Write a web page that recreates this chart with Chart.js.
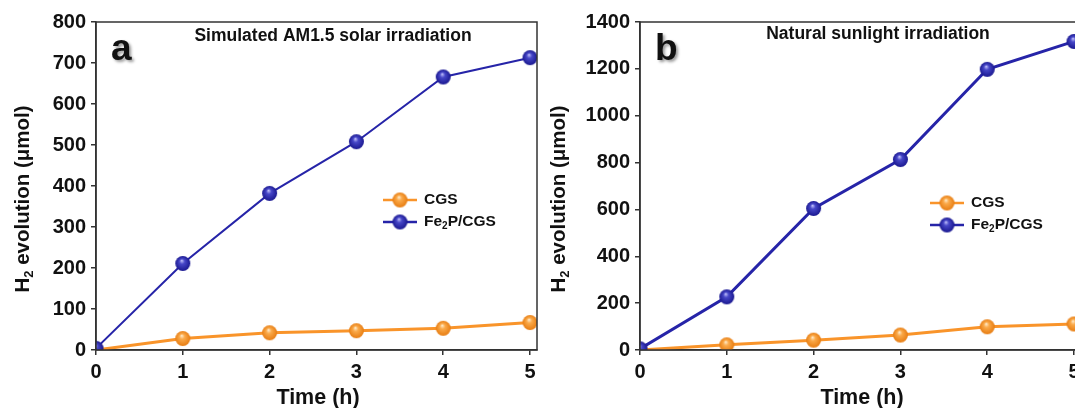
<!DOCTYPE html>
<html>
<head>
<meta charset="utf-8">
<script src="https://cdn.jsdelivr.net/npm/chart.js@4.4.1/dist/chart.umd.min.js"></script>
<style>
  body { margin: 0; width: 1075px; height: 408px; overflow: hidden; background: #fff; position: relative; }
  .panel { position: absolute; top: 0; width: 545px; height: 408px; }
  #panelA { left: 0; }
  #panelB { left: 544px; }
</style>
</head>
<body>
<div class="panel" id="panelA"><canvas id="chartA" width="545" height="408"></canvas></div>
<div class="panel" id="panelB"><canvas id="chartB" width="545" height="408"></canvas></div>
<script>
// datos
const hours = [0, 1, 2, 3, 4, 5];
const cgsA = [0, 28, 42, 47, 53, 67];
const fe2pA = [4, 211, 382, 508, 666, 713];
const cgsB = [0, 22, 42, 64, 99, 111];
const fe2pB = [5, 227, 604, 813, 1198, 1317];
const yMaxA = 800, yStepA = 100;
const yMaxB = 1400, yStepB = 200;
const titleA = "Simulated AM1.5 solar irradiation";
const titleB = "Natural sunlight irradiation";
const seriesNames = ["CGS", "Fe2P/CGS"];

const FONT = '"Liberation Sans", Arial, sans-serif';
const ORANGE = "rgb(249,148,42)";
const BLUE = "rgb(38,36,168)";
const AXIS = "#333";

// bolita con degradado (tipo esfera)
function makeBall(light, mid, dark, r) {
  const c = document.createElement("canvas");
  c.width = c.height = r * 2 + 2;
  const g = c.getContext("2d");
  const cx = r + 1, cy = r + 1;
  const grad = g.createRadialGradient(cx - r * 0.15, cy - r * 0.4, 0, cx, cy, r);
  grad.addColorStop(0, light);
  grad.addColorStop(0.35, mid);
  grad.addColorStop(1, dark);
  g.fillStyle = grad;
  g.beginPath();
  g.arc(cx, cy, r, 0, Math.PI * 2);
  g.fill();
  return c;
}
const ballOrange = makeBall("#fff1d6", "#fbaa4a", "#e77d12", 7.5);
const ballBlue = makeBall("#c9c9ff", "#4747c8", "#1a1890", 7.5);

function pairs(values) {
  return hours.map((h, i) => ({ x: h, y: values[i] }));
}

// textos con subindice
function drawSub(ctx, parts, x, y, size, align) {
  const total = parts.reduce((s, p) => {
    ctx.font = "bold " + (p.sub ? Math.round(size * 0.65) : size) + "px " + FONT;
    return s + ctx.measureText(p.t).width;
  }, 0);
  let cx = align === "center" ? x - total / 2 : x;
  parts.forEach(p => {
    ctx.font = "bold " + (p.sub ? Math.round(size * 0.65) : size) + "px " + FONT;
    ctx.fillText(p.t, cx, y + (p.sub ? size * 0.3 : 0));
    cx += ctx.measureText(p.t).width;
  });
}

const decor = {
  id: "decor",
  afterDraw(chart, args, o) {
    const ctx = chart.ctx;
    const a = chart.chartArea;
    ctx.save();
    // marco
    ctx.strokeStyle = AXIS;
    ctx.lineWidth = 1.5;
    ctx.strokeRect(a.left, a.top, a.right - a.left, a.bottom - a.top);

    ctx.fillStyle = "#111";
    ctx.textBaseline = "middle";
    ctx.textAlign = "center";
    ctx.font = "bold 17.5px " + FONT;
    ctx.fillText(o.title, o.titleX, o.titleY);

    // letra del panel
    ctx.save();
    ctx.shadowColor = "rgba(0,0,0,0.4)";
    ctx.shadowOffsetX = 2;
    ctx.shadowOffsetY = 2;
    ctx.shadowBlur = 3;
    ctx.textAlign = "left";
    ctx.textBaseline = "alphabetic";
    ctx.font = "900 37px " + FONT;
    ctx.fillStyle = "#111";
    ctx.fillText(o.letter, o.letterX, 60);
    ctx.restore();

    // titulo eje x
    ctx.textAlign = "left";
    ctx.textBaseline = "middle";
    drawSub(ctx, [{ t: "Time (h)" }], 318, 398, 21.5, "center");

    // titulo eje y
    ctx.save();
    ctx.translate(o.yTitleX, 199);
    ctx.rotate(-Math.PI / 2);
    drawSub(ctx, [{ t: "H" }, { t: "2", sub: true }, { t: " evolution (\u03bcmol)" }], 0, 0, 20.5, "center");
    ctx.restore();

    // leyenda
    const rows = [
      { ball: ballOrange, color: ORANGE, parts: [{ t: "CGS" }] },
      { ball: ballBlue, color: BLUE, parts: [{ t: "Fe" }, { t: "2", sub: true }, { t: "P/CGS" }] }
    ];
    rows.forEach((r, i) => {
      const y = o.legY + i * 22;
      ctx.strokeStyle = r.color;
      ctx.lineWidth = 2.5;
      ctx.beginPath();
      ctx.moveTo(o.legX, y);
      ctx.lineTo(o.legX + 34, y);
      ctx.stroke();
      ctx.drawImage(r.ball, o.legX + 17 - r.ball.width / 2, y - r.ball.height / 2);
      ctx.fillStyle = "#111";
      drawSub(ctx, r.parts, o.legX + 41, y, 15.5, "left");
    });
    ctx.restore();
  }
};

function buildPanel(id, cgs, fe2p, yMax, yStep, deco, blueWidth) {
  return new Chart(document.getElementById(id), {
    type: "line",
    data: {
      datasets: [
        {
          label: seriesNames[1],
          data: pairs(fe2p),
          borderColor: BLUE,
          borderWidth: blueWidth,
          pointStyle: ballBlue,
          clip: 0
        },
        {
          label: seriesNames[0],
          data: pairs(cgs),
          borderColor: ORANGE,
          borderWidth: 3,
          pointStyle: ballOrange,
          clip: 0
        }
      ]
    },
    options: {
      responsive: false,
      animation: false,
      layout: { padding: { left: 0, top: 22, right: 8, bottom: 0 } },
      plugins: {
        legend: { display: false },
        tooltip: { enabled: false },
        decor: deco
      },
      scales: {
        x: {
          type: "linear",
          min: 0,
          max: 5.08,
          afterFit: s => { s.height = 58; },
          afterBuildTicks: s => { s.ticks = hours.map(v => ({ value: v })); },
          ticks: { stepSize: 1, padding: 5, color: "#111", callback: v => String(v),
                   font: { family: FONT, size: 20, weight: "bold" } },
          grid: { drawOnChartArea: false, tickLength: 5, color: AXIS, lineWidth: 1.5 },
          border: { color: AXIS, width: 1.5 }
        },
        y: {
          min: 0,
          max: yMax,
          afterFit: s => { s.width = 96; },
          ticks: { stepSize: yStep, padding: 5, color: "#111", callback: v => String(v),
                   font: { family: FONT, size: 20, weight: "bold" } },
          grid: { drawOnChartArea: false, tickLength: 5, color: AXIS, lineWidth: 1.5 },
          border: { color: AXIS, width: 1.5 }
        }
      }
    },
    plugins: [decor]
  });
}

buildPanel("chartA", cgsA, fe2pA, yMaxA, yStepA,
  { title: titleA, titleX: 333, titleY: 36, letter: "a", letterX: 111, yTitleX: 23, legX: 383, legY: 200 }, 2);
buildPanel("chartB", cgsB, fe2pB, yMaxB, yStepB,
  { title: titleB, titleX: 334, titleY: 34, letter: "b", letterX: 111, yTitleX: 15, legX: 386, legY: 203 }, 3);
</script>
</body>
</html>
